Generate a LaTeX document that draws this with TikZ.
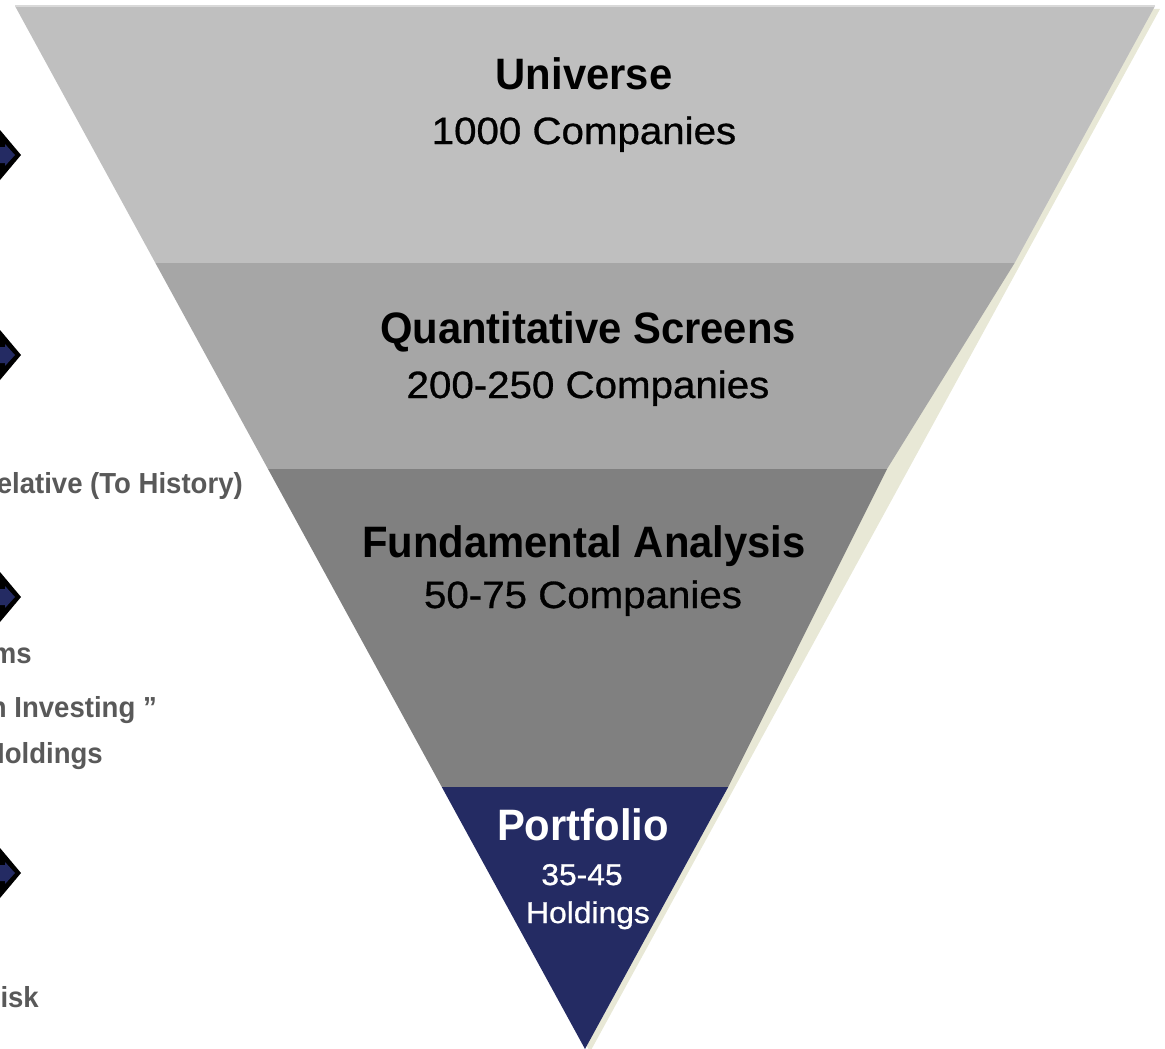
\documentclass[tikz,border=0pt]{standalone}
\usepackage{fontspec}
\setmainfont{Liberation Sans}
\newfontfamily\titlefont[FakeStretch=0.95]{Liberation Sans}
\newfontfamily\subfont[FakeStretch=1.06,FakeBold=0.8]{Liberation Sans}
\definecolor{bandA}{HTML}{BFBFBF}
\definecolor{bandB}{HTML}{A6A6A6}
\definecolor{bandC}{HTML}{808080}
\definecolor{navy}{HTML}{242B63}
\definecolor{shadowc}{HTML}{E8E8D6}
\definecolor{topline}{HTML}{D9D9D9}
\definecolor{sidegray}{HTML}{595959}
\tikzset{
  ttl/.style={inner sep=0pt, anchor=base, font=\titlefont\bfseries\fontsize{44}{44}\selectfont},
  sub/.style={inner sep=0pt, anchor=base, font=\subfont\fontsize{38}{38}\selectfont},
  psub/.style={inner sep=0pt, anchor=base, text=white, font=\subfont\fontsize{30}{30}\selectfont},
  side/.style={inner sep=0pt, anchor=base east, text=sidegray, font=\titlefont\bfseries\fontsize{29}{29}\selectfont},
}
\begin{document}
\begin{tikzpicture}[x=1pt,y=-1pt]
\useasboundingbox (0,0) rectangle (1165,1049);
\clip (0,0) rectangle (1165,1049);
% triangle corners
\coordinate (tl) at (15,6);
\coordinate (tr) at (1155,6);
\coordinate (ap) at (585,1049);
\coordinate (l1) at (155.4,263); \coordinate (r1) at (1014.6,263);
\coordinate (l2) at (268.0,469); \coordinate (r2) at (887.0,469);
\coordinate (l3) at (441.8,787); \coordinate (r3) at (728.2,787);
% shadow
\fill[shadowc] ([shift={(5,3)}]tl) -- ([shift={(5,3)}]tr) -- ([shift={(5,3)}]ap) -- cycle;
% bands
\fill[bandA] (tl) -- (tr) -- (r1) -- (l1) -- cycle;
\fill[bandB] (l1) -- (r1) -- (r2) -- (l2) -- cycle;
\fill[bandC] (l2) -- (r2) -- (r3) -- (l3) -- cycle;
\fill[navy] (l3) -- (r3) -- (ap) -- cycle;
\draw[topline, line width=1.2pt] (tl) -- (tr);
% texts
\node[ttl] (t1) at (584,89) {Universe};
\node[sub] (s1) at (584,144) {1000 Companies};
\node[ttl] (t2) at (588,343) {Quantitative Screens};
\node[sub] (s2) at (588,398) {200-250 Companies};
\node[ttl] (t3) at (584,557) {Fundamental Analysis};
\node[sub] (s3) at (583,608) {50-75 Companies};
\node[ttl, text=white] (t4) at (583,840) {Portfolio};
\node[psub] (s4a) at (582,885) {35-45};
\node[psub] (s4b) at (588,923) {Holdings};
% side markers
\foreach \c/\nm in {155/ma,355/mb,597/mc,873/md} {
  \fill[black] (-21,\c) -- (0,{\c-25}) -- (21,\c) -- (0,{\c+25}) -- cycle;
  \fill[navy] (-10,{\c-8}) -- (5,{\c-8}) -- (5,{\c-11}) -- (15,\c) -- (5,{\c+11}) -- (5,{\c+8}) -- (-10,{\c+8}) -- cycle;
  \coordinate (\nm) at (0,\c);
}
% side texts (partly cut by the left edge)
\node[side] (x1) at (243,493) {elative (To History)};
\node[side] (x2) at (32,663) {ms};
\node[side] (x3) at (157,717) {n Investing ”};
\node[side] (x4) at (103,763) {Holdings};
\node[side] (x5) at (39,1007) {isk};
\end{tikzpicture}
\end{document}
